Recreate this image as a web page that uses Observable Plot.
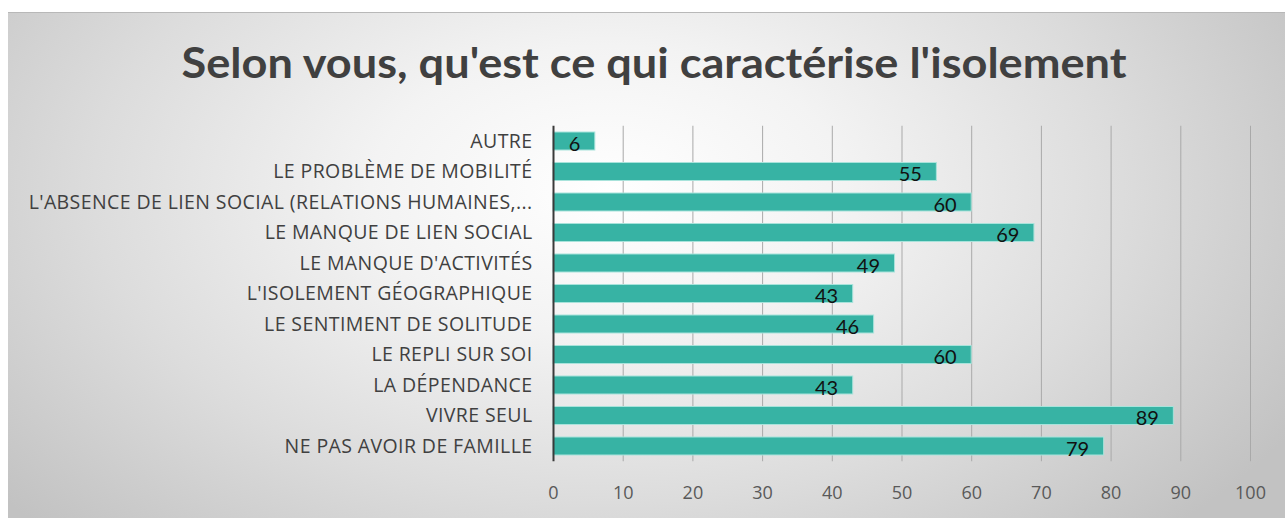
<!DOCTYPE html>
<html>
<head>
<meta charset="utf-8">
<script src="https://cdn.jsdelivr.net/npm/d3@7"></script>
<script src="https://cdn.jsdelivr.net/npm/@observablehq/plot@0.6"></script>
<style>
  html, body { margin: 0; padding: 0; background: #ffffff; width: 1285px; height: 518px; overflow: hidden; }
  #panel {
    position: absolute; left: 8px; top: 12px; width: 1277px; height: 506px;
    border-top: 1px solid #b8b8b8;
    background: radial-gradient(ellipse 62% 95% at 47% 35%, #ffffff 0%, #f3f3f3 30%, #dcdcdc 65%, #c2c2c2 100%);
  }
  #title { position: absolute; left: 0; top: 0; }
  #chart { position: absolute; left: 0; top: 110px; }
  #chart svg g[aria-label="y-axis tick label"] text { letter-spacing: 0.4px; }
</style>
</head>
<body>
<div id="panel"></div>
<svg id="title" width="1285" height="110">
  <text x="654" y="78" text-anchor="middle" textLength="945" lengthAdjust="spacingAndGlyphs"
        font-family="Lato, 'Open Sans', sans-serif" font-weight="bold" font-size="42" fill="#404040">Selon vous, qu'est ce qui caractérise l'isolement</text>
</svg>
<div id="chart"></div>
<script>
const categories = [
  "AUTRE",
  "LE PROBLÈME DE MOBILITÉ",
  "L'ABSENCE DE LIEN SOCIAL (RELATIONS HUMAINES,...",
  "LE MANQUE DE LIEN SOCIAL",
  "LE MANQUE D'ACTIVITÉS",
  "L'ISOLEMENT GÉOGRAPHIQUE",
  "LE SENTIMENT DE SOLITUDE",
  "LE REPLI SUR SOI",
  "LA DÉPENDANCE",
  "VIVRE SEUL",
  "NE PAS AVOIR DE FAMILLE"
];
const values = [6, 55, 60, 69, 49, 43, 46, 60, 43, 89, 79];
const xTicks = [0, 10, 20, 30, 40, 50, 60, 70, 80, 90, 100];

const data = categories.map((c, i) => ({label: c, value: values[i]}));

const chart = Plot.plot({
  width: 1285,
  height: 408,
  marginLeft: 553,
  marginRight: 35,
  marginTop: 15.75,
  marginBottom: 56.75,
  style: {background: "transparent", fontFamily: "'Open Sans', Lato, sans-serif", fontSize: "18px", color: "#404040", overflow: "visible"},
  x: {domain: [0, 100]},
  y: {domain: categories, paddingInner: 0.41, paddingOuter: 0.205, round: false},
  marks: [
    Plot.ruleX(xTicks.filter(d => d > 0), {stroke: "#a9a9a9", strokeWidth: 1}),
    Plot.barX(data, {y: "label", x: "value", fill: "#37b3a4", stroke: "#a8e3db", strokeWidth: 1}),
    Plot.ruleX([0], {stroke: "#3a3a3a", strokeWidth: 2}),
    Plot.text(data, {x: "value", y: "label", text: d => String(d.value), textAnchor: "end", dx: -15, dy: 3, fill: "#111111", fontSize: 20, fontFamily: "Lato, sans-serif"}),
    Plot.axisY({tickSize: 0, tickPadding: 21, label: null, color: "#404040", fontSize: 19.5}),
    Plot.axisX({ticks: xTicks, tickSize: 0, tickPadding: 24, label: null, color: "#595959", fontSize: 18})
  ]
});
document.getElementById("chart").appendChild(chart);
</script>
</body>
</html>
